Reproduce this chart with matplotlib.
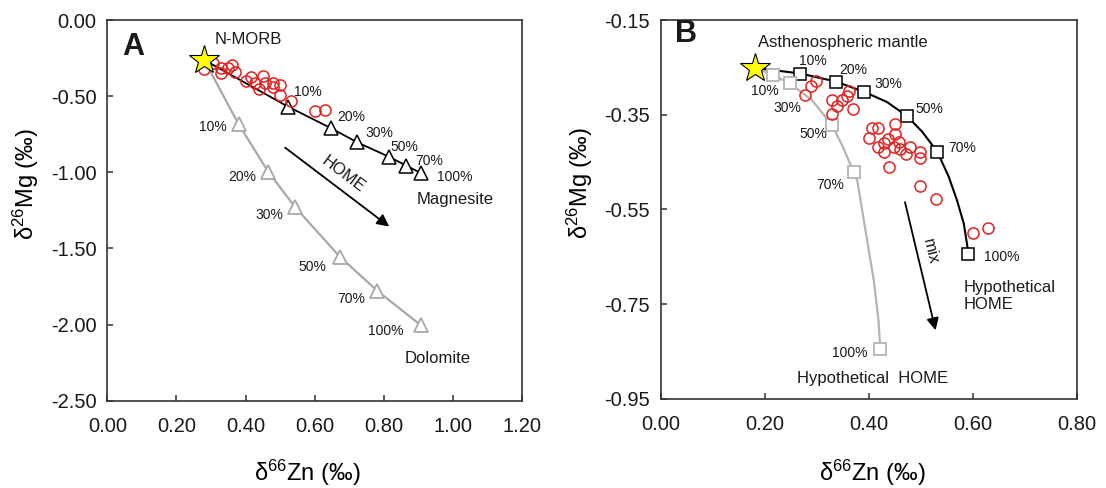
import numpy as np
import matplotlib.pyplot as plt

plt.rcParams['font.family'] = ['Liberation Sans', 'DejaVu Sans']
plt.rcParams['mathtext.fontset'] = 'custom'
plt.rcParams['mathtext.rm'] = 'Liberation Sans'
plt.rcParams['mathtext.it'] = 'Liberation Sans'
plt.rcParams['text.color'] = '#1a1a1a'

# ---------------- Panel A data ----------------
morb_a = (0.280, -0.262)

mag_x = [0.280, 0.523, 0.648, 0.723, 0.814, 0.865, 0.908]
mag_y = [-0.262, -0.569, -0.711, -0.803, -0.897, -0.956, -1.006]
mag_lab = ['10%', '20%', '30%', '50%', '70%', '100%']
mag_lab_x = [0.581, 0.706, 0.786, 0.860, 0.930, 1.005]
mag_lab_y = [-0.470, -0.634, -0.743, -0.835, -0.923, -1.028]

dol_x = [0.280, 0.380, 0.465, 0.542, 0.672, 0.781, 0.908]
dol_y = [-0.262, -0.685, -0.995, -1.225, -1.553, -1.778, -2.006]
dol_lab = ['10%', '20%', '30%', '50%', '70%', '100%']
dol_lab_x = [0.304, 0.390, 0.468, 0.592, 0.706, 0.807]
dol_lab_y = [-0.700, -1.028, -1.280, -1.623, -1.831, -2.045]

samp_a_x = [0.280, 0.306, 0.330, 0.330, 0.349, 0.361, 0.369, 0.400, 0.417, 0.427,
            0.439, 0.451, 0.455, 0.478, 0.479, 0.499, 0.499, 0.530, 0.600, 0.629]
samp_a_y = [-0.322, -0.284, -0.317, -0.350, -0.317, -0.295, -0.339, -0.398, -0.376, -0.415,
            -0.455, -0.367, -0.415, -0.415, -0.438, -0.427, -0.492, -0.530, -0.597, -0.591]

# ---------------- Panel B data ----------------
mantle_b = (0.181, -0.251)

hb_x = [0.269, 0.337, 0.392, 0.474, 0.532, 0.592]
hb_y = [-0.263, -0.280, -0.302, -0.353, -0.428, -0.645]
hb_lab = ['10%', '20%', '30%', '50%', '70%', '100%']
hb_lab_x = [0.292, 0.370, 0.437, 0.517, 0.580, 0.655]
hb_lab_y = [-0.236, -0.256, -0.286, -0.338, -0.421, -0.650]
# black mixing curve
hb_curve_x = [0.181, 0.269, 0.337, 0.392, 0.435, 0.474, 0.503, 0.532, 0.554, 0.570, 0.583, 0.589, 0.592]
hb_curve_y = [-0.251, -0.263, -0.280, -0.302, -0.323, -0.353, -0.386, -0.428, -0.481, -0.531, -0.580, -0.622, -0.645]

hg_x = [0.217, 0.248, 0.330, 0.371, 0.4225]
hg_y = [-0.266, -0.284, -0.372, -0.471, -0.844]
hg_lab = ['10%', '30%', '50%', '70%', '100%']
hg_lab_x = [0.200, 0.243, 0.294, 0.326, 0.363]
hg_lab_y = [-0.300, -0.335, -0.391, -0.499, -0.853]
# grey mixing curve
hg_curve_x = [0.181, 0.217, 0.248, 0.290, 0.330, 0.351, 0.371, 0.378, 0.394, 0.410, 0.419, 0.4225]
hg_curve_y = [-0.251, -0.266, -0.284, -0.318, -0.372, -0.419, -0.471, -0.488, -0.594, -0.700, -0.784, -0.844]

samp_b_x = [0.299, 0.290, 0.278, 0.362, 0.358, 0.349, 0.330, 0.339, 0.330, 0.370,
            0.407, 0.419, 0.450, 0.400, 0.450, 0.438, 0.429, 0.458, 0.448, 0.419,
            0.429, 0.461, 0.471, 0.480, 0.499, 0.499, 0.440, 0.499, 0.530, 0.600, 0.630]
samp_b_y = [-0.279, -0.290, -0.309, -0.299, -0.311, -0.319, -0.319, -0.332, -0.349, -0.339,
            -0.379, -0.379, -0.370, -0.400, -0.390, -0.402, -0.409, -0.407, -0.418, -0.419,
            -0.428, -0.423, -0.432, -0.419, -0.428, -0.441, -0.460, -0.501, -0.529, -0.600, -0.590]

red = '#e3211f'
grey_a = '#a8a8a8'
grey_b = '#b4b4b4'
fs_tick = 14.5
fs_ax = 17
fs_note = 12
fs_pct = 10

fig = plt.figure(figsize=(11.06, 4.88), dpi=100)
axA = fig.add_axes([0.0971, 0.1789, 0.3749, 0.7800])
axB = fig.add_axes([0.5972, 0.1828, 0.3763, 0.7762])

# ---------- A ----------
axA.plot(mag_x, mag_y, color='k', lw=1.3, zorder=2)
axA.plot(dol_x, dol_y, color=grey_a, lw=1.6, zorder=2)
axA.plot(mag_x[1:], mag_y[1:], ls='none', marker='^', ms=10, mfc='white', mec='k', mew=1.1, zorder=3)
axA.plot(dol_x[1:], dol_y[1:], ls='none', marker='^', ms=10, mfc='white', mec=grey_a, mew=1.3, zorder=3)
axA.plot(samp_a_x, samp_a_y, ls='none', marker='o', ms=8, mfc='none', mec=red, mew=1.1, zorder=4)
axA.plot(*morb_a, marker='*', ms=22, mfc='#ffff00', mec='k', mew=0.8, zorder=5)
for t, x, y in zip(mag_lab, mag_lab_x, mag_lab_y):
    axA.text(x, y, t, fontsize=fs_pct, ha='center', va='center')
for t, x, y in zip(dol_lab, dol_lab_x, dol_lab_y):
    axA.text(x, y, t, fontsize=fs_pct, ha='center', va='center')
axA.text(0.407, -0.127, 'N-MORB', fontsize=fs_note, ha='center', va='center')
axA.text(0.894, -1.181, 'Magnesite', fontsize=fs_note, ha='left', va='center')
axA.text(0.860, -2.224, 'Dolomite', fontsize=fs_note, ha='left', va='center')
axA.text(0.075, -0.175, 'A', fontsize=22, fontweight='bold', ha='center', va='center')
axA.annotate('', xy=(0.822, -1.367), xytext=(0.508, -0.827),
             arrowprops=dict(arrowstyle='-|>', color='k', lw=1.3, mutation_scale=18))
axA.text(0.682, -1.017, 'HOME', fontsize=fs_note, rotation=-37, ha='center', va='center')

axA.set_xlim(0, 1.2)
axA.set_ylim(-2.5, 0)
axA.set_xticks(np.arange(0, 1.21, 0.2))
axA.set_yticks(np.arange(-2.5, 0.01, 0.5))
axA.set_xlabel(r'δ$^{66}$Zn (‰)', fontsize=fs_ax)
axA.set_ylabel(r'δ$^{26}$Mg (‰)', fontsize=fs_ax)
axA.xaxis.set_label_coords(0.481, -0.150)
axA.yaxis.set_label_coords(-0.160, 0.57)

# ---------- B ----------
axB.plot(hb_curve_x, hb_curve_y, color='k', lw=1.5, zorder=2)
axB.plot(hg_curve_x, hg_curve_y, color=grey_b, lw=1.6, zorder=2)
axB.plot(hb_x, hb_y, ls='none', marker='s', ms=8, mfc='white', mec='k', mew=1.1, zorder=3)
axB.plot(hg_x, hg_y, ls='none', marker='s', ms=8, mfc='white', mec=grey_b, mew=1.3, zorder=3)
axB.plot(samp_b_x, samp_b_y, ls='none', marker='o', ms=8, mfc='none', mec=red, mew=1.1, zorder=4)
axB.plot(*mantle_b, marker='*', ms=22, mfc='#ffff00', mec='k', mew=0.8, zorder=5)
for t, x, y in zip(hb_lab, hb_lab_x, hb_lab_y):
    axB.text(x, y, t, fontsize=fs_pct, ha='center', va='center')
for t, x, y in zip(hg_lab, hg_lab_x, hg_lab_y):
    axB.text(x, y, t, fontsize=fs_pct, ha='center', va='center')
axB.text(0.188, -0.1965, 'Asthenospheric mantle', fontsize=fs_note, ha='left', va='center')
axB.text(0.583, -0.733, 'Hypothetical\nHOME', fontsize=fs_note, ha='left', va='center',
         linespacing=1.1)
axB.text(0.4085, -0.9075, 'Hypothetical  HOME', fontsize=fs_note, ha='center', va='center')
axB.text(0.049, -0.1785, 'B', fontsize=22, fontweight='bold', ha='center', va='center')
axB.annotate('', xy=(0.530, -0.811), xytext=(0.4687, -0.529),
             arrowprops=dict(arrowstyle='-|>', color='k', lw=1.3, mutation_scale=18))
axB.text(0.519, -0.640, 'mix', fontsize=fs_note, rotation=-76.5, ha='center', va='center')

axB.set_xlim(0, 0.8)
axB.set_ylim(-0.95, -0.15)
axB.set_xticks(np.arange(0, 0.81, 0.2))
axB.set_yticks(np.arange(-0.95, -0.149, 0.2))
axB.set_xlabel(r'δ$^{66}$Zn (‰)', fontsize=fs_ax)
axB.set_ylabel(r'δ$^{26}$Mg (‰)', fontsize=fs_ax)
axB.xaxis.set_label_coords(0.508, -0.156)
axB.yaxis.set_label_coords(-0.157, 0.57)

for ax in (axA, axB):
    ax.xaxis.set_major_formatter(plt.FormatStrFormatter('%.2f'))
    ax.yaxis.set_major_formatter(plt.FormatStrFormatter('%.2f'))
    ax.tick_params(direction='in', length=4, width=1.1, labelsize=fs_tick,
                   colors='#333333', labelcolor='#1a1a1a')
    ax.tick_params(axis='x', pad=12)
    ax.tick_params(axis='y', pad=8)
    for s in ax.spines.values():
        s.set_color('#333333')
        s.set_linewidth(1.2)

fig.savefig('out.png', dpi=100)
